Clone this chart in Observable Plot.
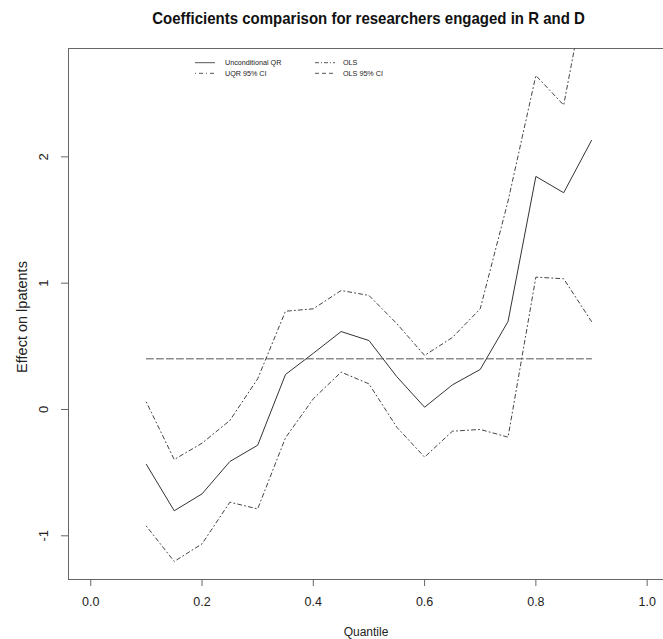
<!DOCTYPE html>
<html>
<head>
<meta charset="utf-8">
<script src="https://cdn.jsdelivr.net/npm/d3@7"></script>
<script src="https://cdn.jsdelivr.net/npm/@observablehq/plot@0.6"></script>
<style>
  html, body { margin: 0; padding: 0; background: #fff; }
  #wrap { position: relative; width: 663px; height: 639px; overflow: hidden; font-family: "Liberation Sans", Arial, sans-serif; }
  #title { height: 36px; line-height: 36px; padding-left: 74px; width: 589px; text-align: center; font-weight: bold; font-size: 15px; color: #111; transform: scaleY(1.15); }
  #legend { position: absolute; left: 0; top: 0; width: 663px; height: 100px; pointer-events: none; }
</style>
</head>
<body>
<div id="wrap">
  <div id="title">Coefficients comparison for researchers engaged in R and D</div>
  <div id="chart"></div>
  <svg id="legend" width="663" height="100"></svg>
</div>
<script>
// Quantiles estimated
const quantiles = [0.10, 0.15, 0.20, 0.25, 0.30, 0.35, 0.40, 0.45, 0.50, 0.55, 0.60, 0.65, 0.70, 0.75, 0.80, 0.85, 0.90];
// Unconditional QR coefficient
const uqr = [-0.435, -0.802, -0.668, -0.412, -0.283, 0.277, 0.445, 0.617, 0.546, 0.26, 0.018, 0.195, 0.317, 0.697, 1.845, 1.716, 2.13];
// UQR 95% CI bounds
const uqrUpper = [0.058, -0.396, -0.267, -0.087, 0.243, 0.778, 0.797, 0.942, 0.903, 0.68, 0.428, 0.57, 0.797, 1.65, 2.644, 2.41, 3.57];
const uqrLower = [-0.924, -1.203, -1.064, -0.734, -0.787, -0.224, 0.085, 0.296, 0.203, -0.14, -0.377, -0.172, -0.158, -0.219, 1.048, 1.035, 0.697];
// OLS coefficient (constant across quantiles)
const olsValue = 0.401;
const olsRange = [0.1, 0.9];
// Axis ticks
const xTicks = [0, 0.2, 0.4, 0.6, 0.8, 1.0];
const yTicks = [-1, 0, 1, 2];
// Legend entries
const legendLabels = ["Unconditional QR", "UQR 95% CI", "OLS", "OLS 95% CI"];

const series = (vals) => quantiles.map((q, i) => ({q, v: vals[i]}));
const olsData = olsRange.map(q => ({q, v: olsValue}));

const xDomain = [-0.04, 1.0294];
const yDomain = [-1.346, 2.858];
const axisColor = "#666";
const textColor = "#222";

const chart = Plot.plot({
  width: 663,
  height: 603,
  marginLeft: 68,
  marginRight: 0,
  marginTop: 12,
  marginBottom: 60,
  style: {fontFamily: "'Liberation Sans', Arial, sans-serif", background: "#fff", color: textColor},
  x: {domain: xDomain},
  y: {domain: yDomain},
  marks: [
    // box (right edge falls outside the picture)
    Plot.ruleX([xDomain[0]], {stroke: axisColor, strokeWidth: 1}),
    Plot.ruleY([yDomain[0], yDomain[1]], {stroke: axisColor, strokeWidth: 1}),
    Plot.axisX({ticks: xTicks, tickSize: 7, tickPadding: 11, tickFormat: d3.format(".1f"), fontSize: 12.5, stroke: axisColor, fill: textColor, label: null}),
    Plot.axisY({ticks: yTicks, tickSize: 7, tickFormat: () => "", stroke: axisColor, label: null}),
    Plot.text(yTicks, {y: d => d, text: d => String(d), frameAnchor: "left", textAnchor: "middle", lineAnchor: "middle", dx: -25, rotate: -90, fontSize: 13, fill: textColor}),
    Plot.text(["Quantile"], {frameAnchor: "bottom", lineAnchor: "middle", dy: 52.5, fontSize: 12, fill: textColor}),
    Plot.text(["Effect on lpatents"], {frameAnchor: "left", textAnchor: "middle", lineAnchor: "middle", dx: -46.5, dy: 3, rotate: -90, fontSize: 14.5, fill: textColor}),
    // OLS
    Plot.line(olsData, {x: "q", y: "v", stroke: "#555", strokeWidth: 1, strokeDasharray: "7,3"}),
    // CI
    Plot.line(series(uqrUpper), {x: "q", y: "v", stroke: "#444", strokeWidth: 1, strokeDasharray: "1,3,4,3", clip: true}),
    Plot.line(series(uqrLower), {x: "q", y: "v", stroke: "#444", strokeWidth: 1, strokeDasharray: "1,3,4,3", clip: true}),
    // UQR
    Plot.line(series(uqr), {x: "q", y: "v", stroke: "#333", strokeWidth: 1, clip: true})
  ]
});
document.getElementById("chart").appendChild(chart);

// Legend overlay
const leg = d3.select("#legend");
const legendStyles = [
  {dash: null},
  {dash: "1,3,4,3"},
  {dash: "4,2,1,2"},
  {dash: "4,3"}
];
const cols = [{lx: 195, tx: 225}, {lx: 315, tx: 343}];
const rows = [62.7, 73.3];
legendLabels.forEach((lab, i) => {
  const c = cols[Math.floor(i / 2)];
  const y = rows[i % 2];
  const ln = leg.append("line").attr("x1", c.lx).attr("x2", c.lx + 20).attr("y1", y).attr("y2", y)
    .attr("stroke", "#555").attr("stroke-width", 1);
  if (legendStyles[i].dash) ln.attr("stroke-dasharray", legendStyles[i].dash);
  leg.append("text").attr("x", c.tx).attr("y", y).attr("dy", "0.35em").attr("font-size", 7.2)
    .attr("font-family", "'Liberation Sans', Arial, sans-serif").attr("fill", textColor).text(lab);
});
</script>
</body>
</html>
